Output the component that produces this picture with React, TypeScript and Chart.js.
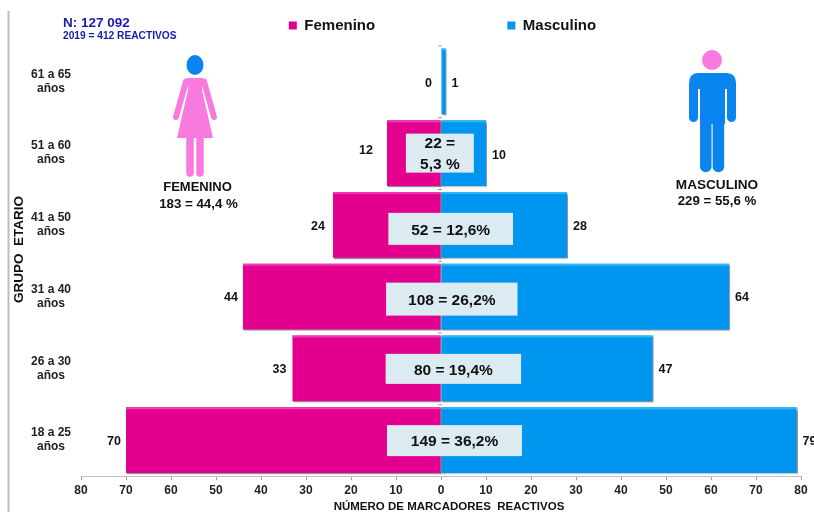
import React, { useEffect, useRef } from "react";
import { Chart, registerables } from "chart.js";

Chart.register(...registerables);

const ageGroups = [
  ["61 a 65", "años"],
  ["51 a 60", "años"],
  ["41 a 50", "años"],
  ["31 a 40", "años"],
  ["26 a 30", "años"],
  ["18 a 25", "años"],
];
const femaleCounts = [0, 12, 24, 44, 33, 70];
const maleCounts = [1, 10, 28, 64, 47, 79];
const totalLines = [[], ["22 =", "5,3 %"], ["52 = 12,6%"], ["108 = 26,2%"], ["80 = 19,4%"], ["149 = 36,2%"]];
const totalBoxSpans = [null, [-7.8, 7.3], [-11.7, 16], [-12.2, 17], [-12.3, 17.8], [-12, 18]];
const totalBoxHeights = [0, 39, 32, 33, 30, 31];
const totalBoxOffsets = [0, 0, 4, 2.5, 0.5, 0.5];
const femaleLabelGaps = [9, 14, 8, 5, 6, 5];
const femaleLabelOffsets = [2, -3, 2, 1, 1, 1];
const maleLabelOffsets = [2, 2, 2, 1, 1, 1];

const FONT = '"Liberation Sans", Arial, sans-serif';
const PINK = "#E4008F";
const BLUE = "#0095EE";
const FIG_PINK = "#F97ADF";
const FIG_BLUE = "#0A84EE";

function roundedLimb(ctx: CanvasRenderingContext2D, x1: number, y1: number, x2: number, y2: number, w: number) {
  ctx.beginPath();
  ctx.lineCap = "round";
  ctx.lineWidth = w;
  ctx.moveTo(x1, y1);
  ctx.lineTo(x2, y2);
  ctx.stroke();
}

function drawWoman(ctx: CanvasRenderingContext2D) {
  ctx.save();
  ctx.fillStyle = FIG_BLUE;
  ctx.beginPath();
  ctx.ellipse(195, 65, 8.5, 10, 0, 0, Math.PI * 2);
  ctx.fill();
  ctx.fillStyle = FIG_PINK;
  ctx.strokeStyle = FIG_PINK;
  ctx.beginPath();
  ctx.moveTo(187, 78);
  ctx.lineTo(203, 78);
  ctx.lineTo(202, 90);
  ctx.lineTo(213, 138);
  ctx.lineTo(177, 138);
  ctx.lineTo(188, 90);
  ctx.closePath();
  ctx.fill();
  roundedLimb(ctx, 186, 81.5, 176, 117, 6);
  roundedLimb(ctx, 204, 81.5, 214, 117, 6);
  roundedLimb(ctx, 190, 136, 190, 173, 7.5);
  roundedLimb(ctx, 200, 136, 200, 173, 7.5);
  ctx.restore();
}

function drawMan(ctx: CanvasRenderingContext2D) {
  ctx.save();
  ctx.fillStyle = FIG_PINK;
  ctx.beginPath();
  ctx.arc(712, 60, 10, 0, Math.PI * 2);
  ctx.fill();
  ctx.fillStyle = FIG_BLUE;
  ctx.strokeStyle = FIG_BLUE;
  ctx.beginPath();
  ctx.moveTo(698, 73);
  ctx.lineTo(726, 73);
  ctx.quadraticCurveTo(736, 73, 736, 84);
  ctx.lineTo(736, 89);
  ctx.lineTo(689, 89);
  ctx.lineTo(689, 84);
  ctx.quadraticCurveTo(689, 73, 698, 73);
  ctx.fill();
  ctx.fillRect(700, 80, 25, 44);
  roundedLimb(ctx, 693.5, 88, 693.5, 117.5, 9);
  roundedLimb(ctx, 731.5, 88, 731.5, 117.5, 9);
  roundedLimb(ctx, 705.8, 118, 705.8, 166.5, 11.5);
  roundedLimb(ctx, 718.4, 118, 718.4, 166.5, 11.5);
  ctx.restore();
}

function text(ctx: CanvasRenderingContext2D, s: string, x: number, y: number, font: string, color = "#111", align: CanvasTextAlign = "center") {
  ctx.font = font;
  ctx.fillStyle = color;
  ctx.textAlign = align;
  ctx.textBaseline = "middle";
  ctx.fillText(s, x, y);
}

const pyramidPlugin = {
  id: "pyramid",
  afterLayout(chart: any) {
    const l = chart.legend;
    if (l) {
      l.left += 42;
      l.right += 42;
      l.top -= 2.5;
      l.bottom -= 2.5;
    }
  },
  beforeDatasetDraw(chart: any) {
    const c = chart.ctx;
    c.save();
    c.shadowColor = "rgba(40,60,80,0.55)";
    c.shadowBlur = 1;
    c.shadowOffsetX = 1;
    c.shadowOffsetY = 1;
  },
  afterDatasetDraw(chart: any) {
    chart.ctx.restore();
  },
  beforeDraw(chart: any) {
    const c = chart.ctx;
    c.save();
    c.fillStyle = "#fff";
    c.fillRect(0, 0, chart.width, chart.height);
    c.fillStyle = "#BDBDBD";
    c.fillRect(7.5, 11, 2, chart.height - 11);
    c.restore();
  },
  afterDatasetsDraw(chart: any) {
    const c = chart.ctx;
    const xS = chart.scales.x;
    const yS = chart.scales.y;
    const zero = xS.getPixelForValue(0);
    c.save();

    // light top edge of the bars
    chart.data.datasets.forEach((_: any, di: number) => {
      chart.getDatasetMeta(di).data.forEach((el: any, i: number) => {
        if (!chart.data.datasets[di].data[i]) return;
        const p = el.getProps(["x", "y", "base", "height"]);
        const top = p.y - p.height / 2;
        c.fillStyle = di === 0 ? "#F03AAE" : "#2DB8F4";
        c.fillRect(Math.min(p.x, p.base), top, Math.abs(p.x - p.base), 2);
      });
    });

    // small marks at the category boundaries on the zero line
    c.strokeStyle = "#999";
    c.lineWidth = 1;
    for (let i = 0; i < ageGroups.length; i++) {
      const y = yS.top + (yS.height * i) / ageGroups.length;
      c.beginPath();
      c.moveTo(zero - 3, y + 0.5);
      c.lineTo(zero + 1, y + 0.5);
      c.stroke();
    }

    ageGroups.forEach((_, i) => {
      const yc = yS.getPixelForValue(i);
      const femaleX = xS.getPixelForValue(-femaleCounts[i]);
      const maleX = xS.getPixelForValue(maleCounts[i]);
      text(c, String(femaleCounts[i]), femaleX - femaleLabelGaps[i], yc + femaleLabelOffsets[i], `bold 12.5px ${FONT}`, "#111", "right");
      text(c, String(maleCounts[i]), maleX + 6, yc + maleLabelOffsets[i], `bold 12.5px ${FONT}`, "#111", "left");

      const span = totalBoxSpans[i];
      if (span) {
        const x1 = xS.getPixelForValue(span[0]);
        const x2 = xS.getPixelForValue(span[1]);
        const h = totalBoxHeights[i];
        const cy = yc + totalBoxOffsets[i];
        c.fillStyle = "#DCEAF1";
        c.fillRect(x1, cy - h / 2, x2 - x1, h);
        const lines = totalLines[i];
        lines.forEach((t, k) => {
          text(c, t, (x1 + x2) / 2, cy + 1.5 + (k - (lines.length - 1) / 2) * 21, `bold 15.5px ${FONT}`);
        });
      }
    });
    c.restore();
  },
  afterDraw(chart: any) {
    const c = chart.ctx;
    c.save();
    drawWoman(c);
    drawMan(c);
    text(c, "N: 127 092", 63, 23, `bold 13.5px ${FONT}`, "#1A1AAE", "left");
    text(c, "2019 = 412 REACTIVOS", 63, 36.5, `bold 10.2px ${FONT}`, "#1A1AAE", "left");
    text(c, "FEMENINO", 197.5, 187.7, `bold 13px ${FONT}`);
    text(c, "183 = 44,4 %", 198.5, 204, `bold 13.3px ${FONT}`);
    text(c, "MASCULINO", 717, 185, `bold 13.6px ${FONT}`);
    text(c, "229 = 55,6 %", 717, 201, `bold 13.3px ${FONT}`);
    c.restore();
  },
};

export default function App() {
  const ref = useRef<HTMLCanvasElement>(null);
  useEffect(() => {
    const chart = new Chart(ref.current as HTMLCanvasElement, {
      type: "bar",
      data: {
        labels: ageGroups,
        datasets: [
          { label: "Femenino", data: femaleCounts.map((v) => -v), backgroundColor: PINK, barPercentage: 0.915, categoryPercentage: 1, order: 1 },
          { label: "Masculino", data: maleCounts, backgroundColor: BLUE, barPercentage: 0.915, categoryPercentage: 1, order: 0 },
        ],
      },
      options: {
        indexAxis: "y",
        responsive: false,
        animation: false,
        layout: { padding: { left: 0, right: 13, top: 5, bottom: 0 } },
        plugins: {
          tooltip: { enabled: false },
          legend: {
            display: true,
            position: "top",
            labels: {
              boxWidth: 8,
              boxHeight: 8,
              padding: 15.5,
              color: "#111",
              font: { family: FONT, size: 15, weight: "bold" },
              generateLabels: (ch: any) =>
                ch.data.datasets.map((d: any, i: number) => ({
                  text: i === 0 ? d.label + " ".repeat(28) : d.label,
                  fillStyle: d.backgroundColor,
                  strokeStyle: d.backgroundColor,
                  lineWidth: 0,
                  datasetIndex: i,
                  fontColor: "#111",
                })),
            },
          },
        },
        scales: {
          x: {
            type: "linear",
            stacked: true,
            min: -80,
            max: 80,
            afterFit: (s: any) => {
              s.height = 36;
            },
            border: { display: true, color: "#BDBDBD", width: 1 },
            grid: { drawOnChartArea: false, drawTicks: true, tickLength: 4, color: "#9a9a9a" },
            ticks: {
              stepSize: 10,
              padding: 3,
              maxRotation: 0,
              autoSkip: false,
              color: "#222",
              font: { family: FONT, size: 12, weight: "bold" },
              callback: (v: any) => String(Math.abs(Number(v))),
            },
            title: {
              display: true,
              text: "     NÚMERO DE MARCADORES  REACTIVOS",
              color: "#111",
              font: { family: FONT, size: 11.5, weight: "bold" },
              padding: { top: 0, bottom: -2 },
            },
          },
          y: {
            type: "category",
            stacked: true,
            afterFit: (s: any) => {
              s.width = 81;
            },
            border: { display: false },
            grid: { display: false, drawTicks: false },
            ticks: {
              crossAlign: "center",
              padding: 10,
              autoSkip: false,
              color: "#222",
              font: { family: FONT, size: 12, weight: "bold", lineHeight: 1.17 },
            },
            title: {
              display: true,
              text: "      GRUPO  ETARIO",
              color: "#111",
              font: { family: FONT, size: 13.5, weight: "bold" },
              padding: { top: 11, bottom: 0 },
            },
          },
        },
      },
      plugins: [pyramidPlugin],
    } as any);
    return () => chart.destroy();
  }, []);
  return (
    <div style={{ position: "fixed", left: 0, top: 0, width: 814, height: 512, background: "#fff", overflow: "hidden" }}>
      <canvas ref={ref} width={814} height={512} style={{ display: "block", filter: "blur(0.45px)" }} />
    </div>
  );
}
